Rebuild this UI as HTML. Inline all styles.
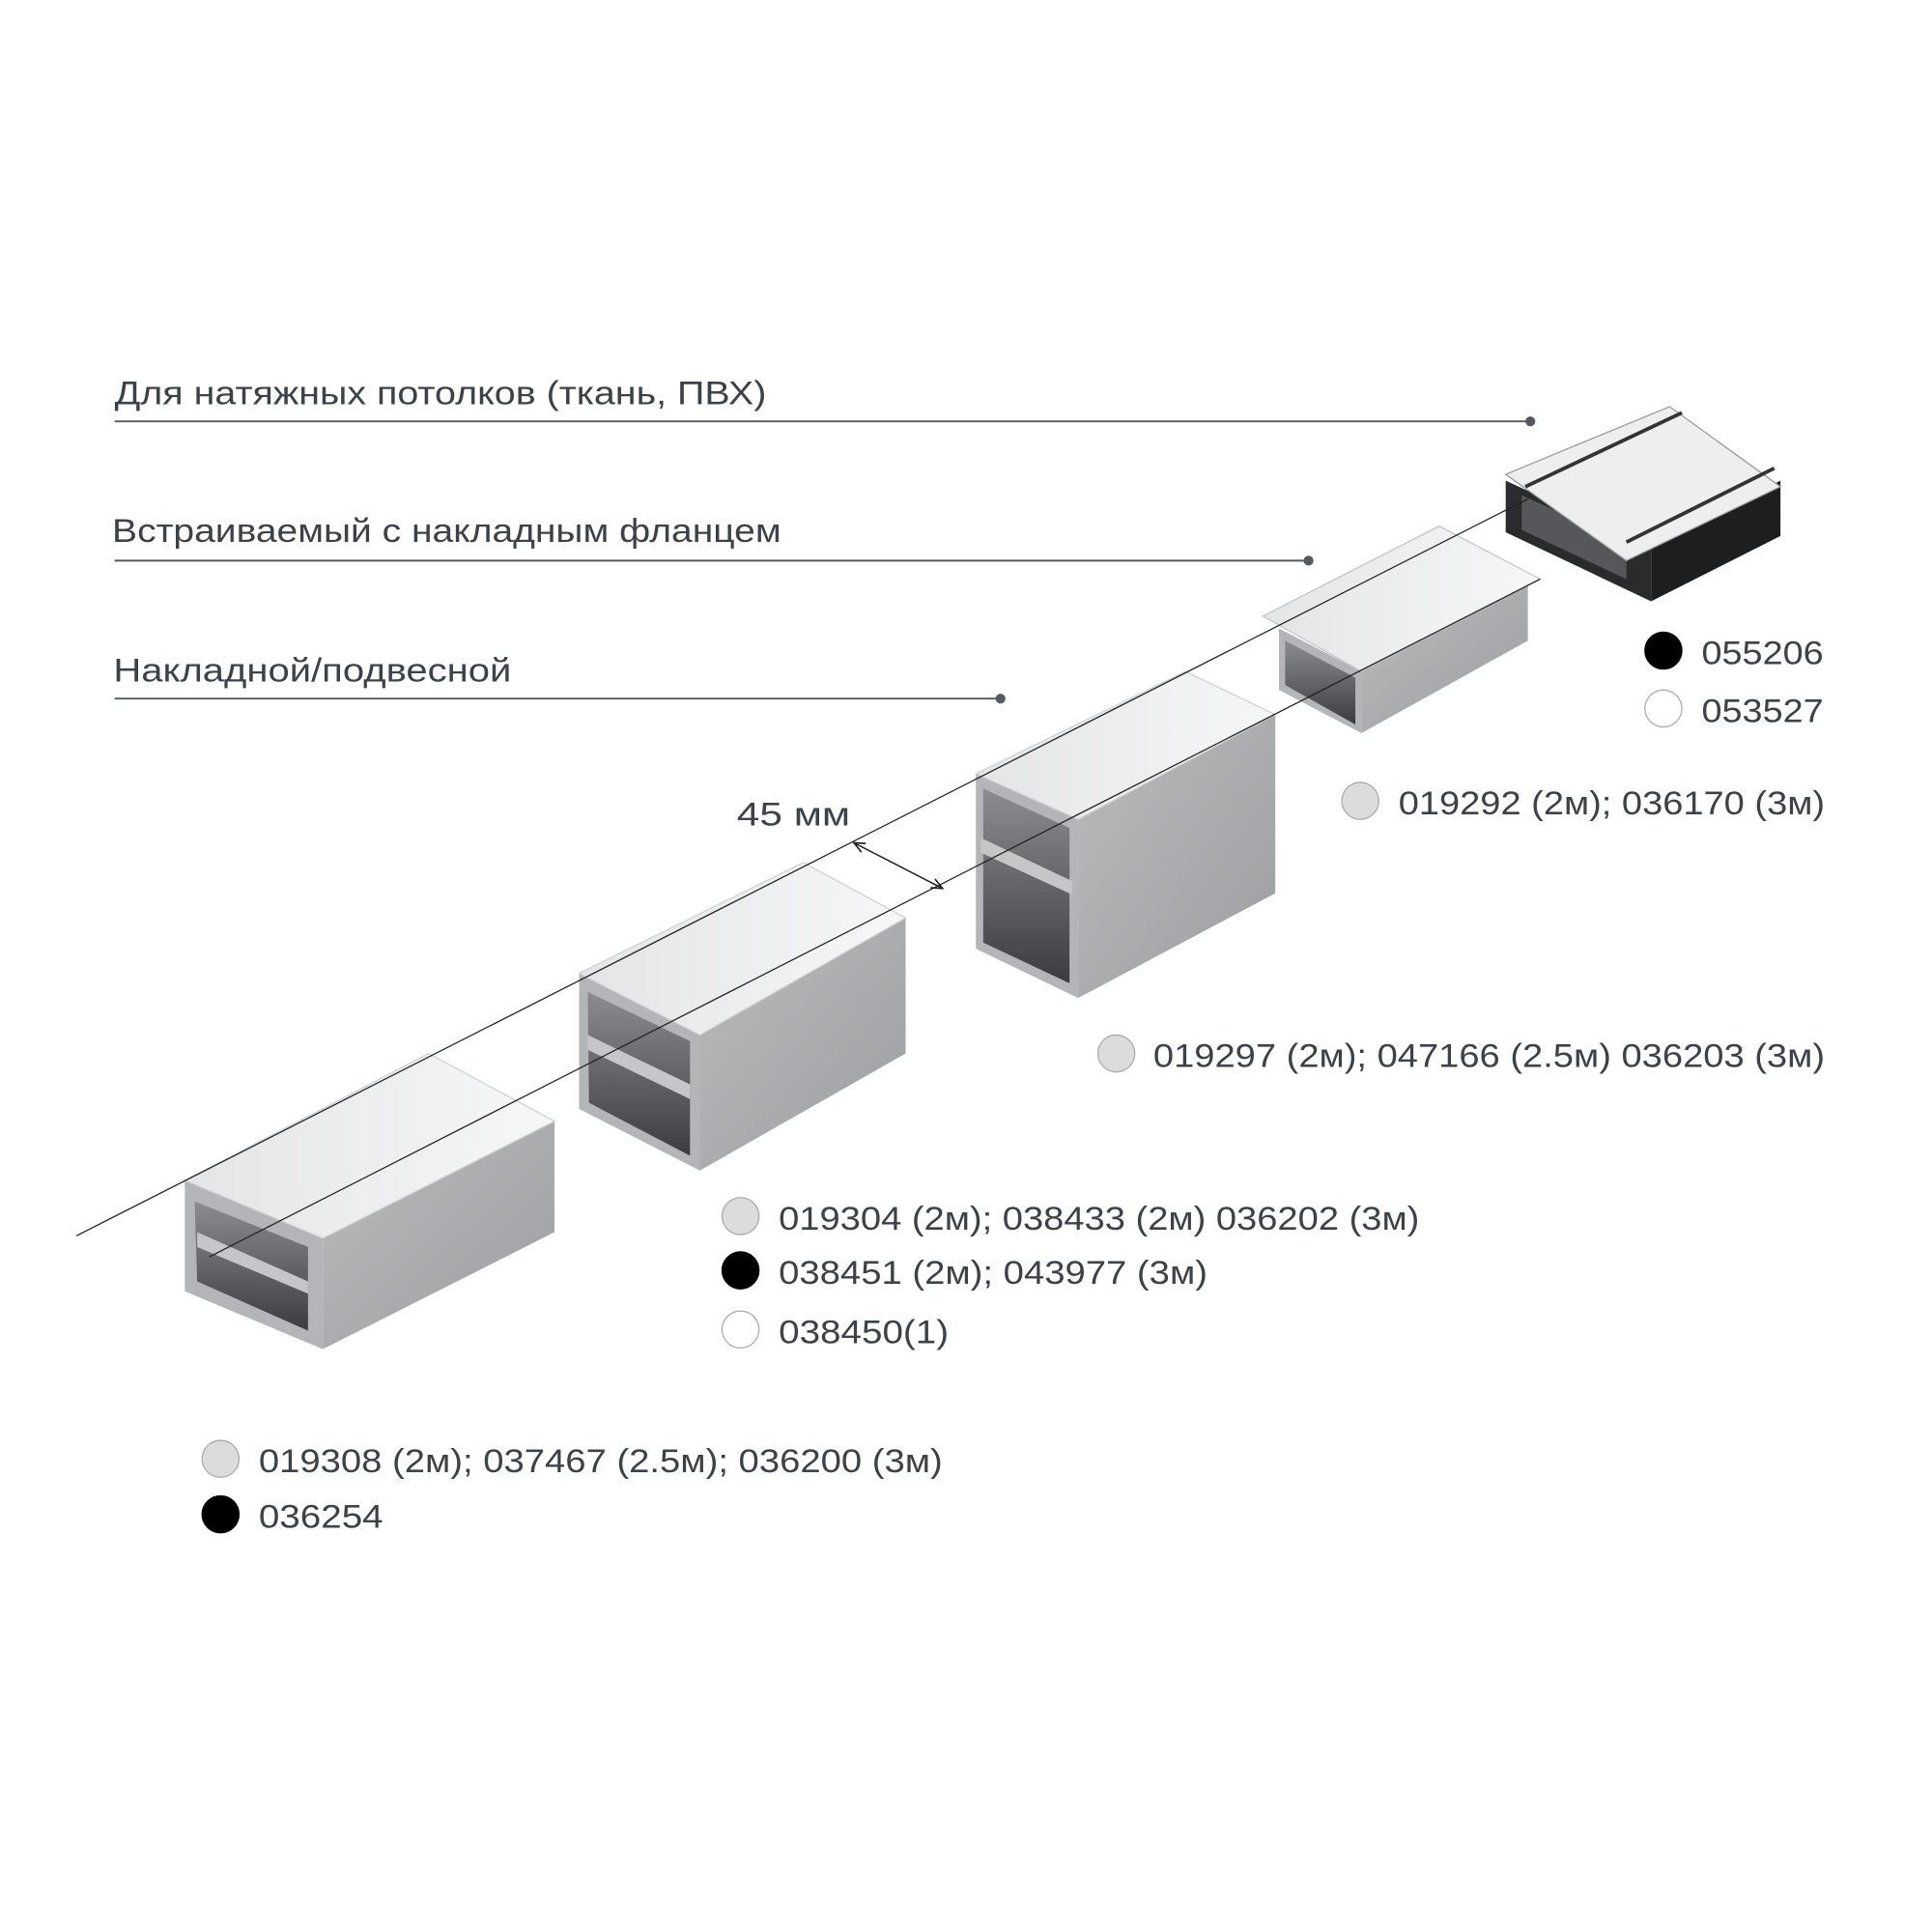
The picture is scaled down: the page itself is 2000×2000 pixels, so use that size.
<!DOCTYPE html>
<html><head><meta charset="utf-8"><style>
html,body{margin:0;padding:0;background:#fff}
svg{display:block}
text{font-family:"Liberation Sans","DejaVu Sans",sans-serif;fill:#3d4248}
</style></head><body>
<svg width="2000" height="2000" viewBox="0 0 1568 1568" xmlns="http://www.w3.org/2000/svg">
<defs>
<linearGradient id="side" x1="0" y1="0" x2="1" y2="1"><stop offset="0" stop-color="#b9bbbd"/><stop offset="1" stop-color="#9c9ea1"/></linearGradient>
<linearGradient id="top" x1="0" y1="0" x2="1" y2="0"><stop offset="0" stop-color="#e4e5e6"/><stop offset="1" stop-color="#f7f7f8"/></linearGradient>
<linearGradient id="inner" x1="0" y1="0" x2="0" y2="1"><stop offset="0" stop-color="#8b8d90"/><stop offset="1" stop-color="#3a3c3f"/></linearGradient>
<marker id="ah" markerWidth="10" markerHeight="10" refX="9" refY="5" orient="auto-start-reverse" markerUnits="userSpaceOnUse"><path d="M0,1 L9,5 L0,9" fill="none" stroke="#222" stroke-width="1.3"/></marker>
</defs>

<text x="93" y="328" font-size="27" textLength="529" lengthAdjust="spacingAndGlyphs">Для натяжных потолков (ткань, ПВХ)</text>
<line x1="93" y1="342" x2="1242" y2="342" stroke="#555a60" stroke-width="1.5"/>
<circle cx="1242" cy="342" r="4" fill="#555a60"/>
<text x="91" y="440" font-size="27" textLength="543" lengthAdjust="spacingAndGlyphs">Встраиваемый с накладным фланцем</text>
<line x1="93" y1="455" x2="1062" y2="455" stroke="#555a60" stroke-width="1.5"/>
<circle cx="1062" cy="455" r="4" fill="#555a60"/>
<text x="92" y="553" font-size="27" textLength="323" lengthAdjust="spacingAndGlyphs">Накладной/подвесной</text>
<line x1="93" y1="567" x2="812" y2="567" stroke="#555a60" stroke-width="1.5"/>
<circle cx="812" cy="567" r="4" fill="#555a60"/>

<!-- profile 1 -->
<polygon points="262,1005 450,910 450,1000 262,1095" fill="url(#side)"/>
<polygon points="150,958 262,1005 262,1095 150,1048" fill="#b3b5b8"/>
<polygon points="158,975 250,1012 250,1080 160,1040" fill="url(#inner)"/>
<polygon points="160,1000 250,1040 250,1050 160,1012" fill="#c4c6c8"/>
<polygon points="150,958 348,855 450,910 262,1005" fill="url(#top)" stroke="#cfd0d2"/>

<!-- profile 2 -->
<polygon points="568,840 735,745 735,855 568,950" fill="url(#side)"/>
<polygon points="470,790 568,840 568,950 470,900" fill="#b3b5b8"/>
<polygon points="477,805 560,845 560,938 478,895" fill="url(#inner)"/>
<polygon points="477,840 560,880 560,892 477,852" fill="#c4c6c8"/>
<polygon points="470,790 652,700 735,745 568,840" fill="url(#top)" stroke="#cfd0d2"/>

<!-- profile 3 -->
<polygon points="875,665 1035,580 1035,725 875,810" fill="url(#side)"/>
<polygon points="792,628 875,665 875,810 792,770" fill="#b3b5b8"/>
<polygon points="798,640 868,672 868,798 798,765" fill="url(#inner)"/>
<polygon points="796,680 870,715 870,726 796,692" fill="#c4c6c8"/>
<polygon points="792,628 962,545 1035,580 875,665" fill="url(#top)" stroke="#cfd0d2"/>

<!-- profile 4 flange -->
<polygon points="1105,545 1240,475 1240,520 1105,595" fill="url(#side)"/>
<polygon points="1038,510 1105,545 1105,595 1038,560" fill="#b3b5b8"/>
<polygon points="1043,520 1100,550 1100,588 1043,556" fill="url(#inner)"/>
<polygon points="1025,500 1168,427 1250,470 1105,545" fill="url(#top)" stroke="#c4c5c7"/>

<!-- profile 5 black -->
<polygon points="1340,445 1445,390 1445,435 1340,488" fill="#1d1e20"/>
<polygon points="1222,390 1340,445 1340,488 1222,432" fill="#2a2b2d"/>
<polygon points="1235,402 1320,440 1320,470 1235,430" fill="#55575a"/>
<polygon points="1222,385 1355,330 1445,395 1320,455" fill="#eeeeef" stroke="#999"/>
<line x1="1238" y1="395" x2="1365" y2="335" stroke="#333" stroke-width="3"/>
<line x1="1320" y1="440" x2="1440" y2="380" stroke="#333" stroke-width="3"/>

<line x1="62" y1="1003" x2="1240" y2="405" stroke="#222" stroke-width="1"/>
<line x1="170" y1="1020" x2="1250" y2="470" stroke="#222" stroke-width="1"/>
<line x1="693" y1="684" x2="765" y2="721" stroke="#222" stroke-width="1.2" marker-start="url(#ah)" marker-end="url(#ah)"/>
<text x="598" y="670" font-size="27" textLength="92" lengthAdjust="spacingAndGlyphs">45 мм</text>

<g stroke="#aaa" stroke-width="1">
<circle cx="1350" cy="528" r="15" fill="#000" stroke="#000"/>
<circle cx="1350" cy="575" r="15" fill="#fff"/>
<circle cx="1104" cy="650" r="15" fill="#dcdcdc"/>
<circle cx="906" cy="855" r="15" fill="#dcdcdc"/>
<circle cx="601" cy="987" r="15" fill="#dcdcdc"/>
<circle cx="601" cy="1031" r="15" fill="#000" stroke="#000"/>
<circle cx="601" cy="1079" r="15" fill="#fff"/>
<circle cx="179" cy="1184" r="15" fill="#dcdcdc"/>
<circle cx="179" cy="1229" r="15" fill="#000" stroke="#000"/>
</g>
<g font-size="27">
<text x="1381" y="539" textLength="99" lengthAdjust="spacingAndGlyphs">055206</text>
<text x="1381" y="586" textLength="99" lengthAdjust="spacingAndGlyphs">053527</text>
<text x="1135" y="661" textLength="346" lengthAdjust="spacingAndGlyphs">019292 (2м); 036170 (3м)</text>
<text x="936" y="866" textLength="545" lengthAdjust="spacingAndGlyphs">019297 (2м); 047166 (2.5м) 036203 (3м)</text>
<text x="632" y="998" textLength="520" lengthAdjust="spacingAndGlyphs">019304 (2м); 038433 (2м) 036202 (3м)</text>
<text x="632" y="1042" textLength="348" lengthAdjust="spacingAndGlyphs">038451 (2м); 043977 (3м)</text>
<text x="632" y="1090" textLength="138" lengthAdjust="spacingAndGlyphs">038450(1)</text>
<text x="210" y="1195" textLength="555" lengthAdjust="spacingAndGlyphs">019308 (2м); 037467 (2.5м); 036200 (3м)</text>
<text x="210" y="1240" textLength="101" lengthAdjust="spacingAndGlyphs">036254</text>
</g>
</svg>
</body></html>
